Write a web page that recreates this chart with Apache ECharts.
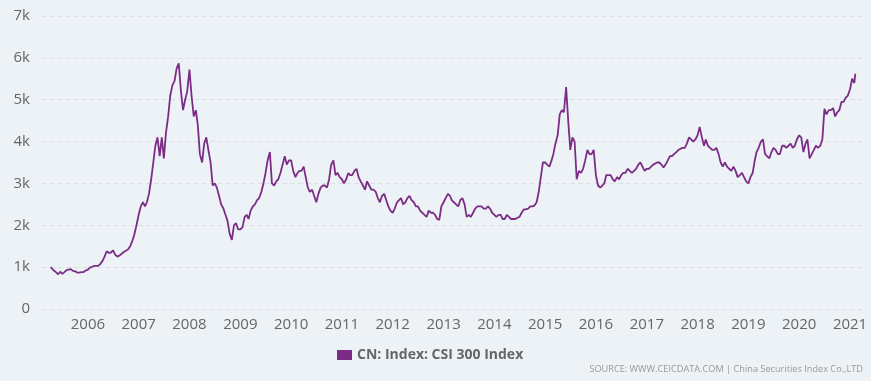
<!DOCTYPE html>
<html>
<head>
<meta charset="utf-8">
<script src="https://cdn.jsdelivr.net/npm/echarts@6/dist/echarts.min.js"></script>
<style>
html,body{margin:0;padding:0;background:#edf2f7;}
#c{width:871px;height:381px;}
</style>
</head>
<body>
<div id="c"></div>
<script>
// Half-monthly readings (1st and 16th of each month) of CSI 300
const seriesName = 'CN: Index: CSI 300 Index';
const sourceText = 'SOURCE: WWW.CEICDATA.COM | China Securities Index Co.,LTD';
const yTicks = [0, 1000, 2000, 3000, 4000, 5000, 6000, 7000];
const firstYear = 2005;
const firstMonth = 4; // April 2005
const v2005 = [1003, 960, 920, 880, 830, 890, 840, 880, 930, 940, 950, 910, 900, 870, 870, 880, 880, 920];
const v2006 = [940, 990, 1010, 1030, 1020, 1030, 1080, 1150, 1250, 1380, 1340, 1350, 1400, 1300, 1250, 1280, 1320, 1360, 1390, 1420, 1500, 1620, 1780, 2000];
const v2007 = [2250, 2450, 2550, 2450, 2550, 2750, 3100, 3500, 3900, 4100, 3650, 4100, 3600, 4200, 4600, 5100, 5350, 5450, 5750, 5870, 5200, 4750, 5000, 5200];
const v2008 = [5720, 5100, 4600, 4750, 4400, 3700, 3500, 3950, 4100, 3800, 3500, 2950, 3000, 2900, 2700, 2500, 2400, 2250, 2100, 1800, 1650, 2000, 2050, 1900];
const v2009 = [1900, 1950, 2200, 2250, 2150, 2350, 2450, 2500, 2600, 2650, 2800, 3000, 3250, 3550, 3750, 3000, 2950, 3050, 3100, 3250, 3450, 3650, 3450, 3550];
const v2010 = [3550, 3300, 3150, 3250, 3300, 3300, 3400, 3150, 2900, 2800, 2850, 2700, 2550, 2750, 2900, 2950, 2950, 2900, 3100, 3450, 3550, 3200, 3250, 3150];
const v2011 = [3100, 3000, 3100, 3250, 3200, 3200, 3300, 3350, 3150, 3050, 2950, 2850, 3050, 2950, 2850, 2850, 2800, 2650, 2550, 2700, 2750, 2600, 2450, 2350];
const v2012 = [2300, 2400, 2550, 2600, 2650, 2500, 2550, 2650, 2700, 2600, 2550, 2450, 2450, 2350, 2300, 2250, 2200, 2350, 2300, 2300, 2250, 2150, 2130, 2450];
const v2013 = [2550, 2650, 2750, 2700, 2600, 2550, 2500, 2450, 2600, 2650, 2500, 2200, 2250, 2200, 2300, 2400, 2450, 2450, 2450, 2400, 2400, 2450, 2400, 2300];
const v2014 = [2250, 2200, 2250, 2250, 2150, 2150, 2250, 2200, 2150, 2150, 2150, 2180, 2200, 2300, 2380, 2380, 2400, 2450, 2450, 2470, 2550, 2800, 3150, 3500];
const v2015 = [3500, 3450, 3400, 3550, 3700, 3950, 4150, 4650, 4750, 4700, 5300, 4500, 3800, 4100, 4000, 3100, 3300, 3250, 3350, 3550, 3800, 3700, 3700, 3800];
const v2016 = [3200, 2950, 2900, 2950, 3000, 3200, 3200, 3200, 3100, 3050, 3150, 3100, 3200, 3250, 3250, 3350, 3300, 3250, 3300, 3350, 3450, 3500, 3400, 3300];
const v2017 = [3350, 3350, 3400, 3450, 3450, 3500, 3500, 3450, 3380, 3450, 3550, 3650, 3650, 3700, 3750, 3800, 3830, 3850, 3850, 3950, 4100, 4050, 4000, 4050];
const v2018 = [4150, 4350, 4100, 3900, 4050, 3900, 3850, 3800, 3800, 3850, 3700, 3500, 3400, 3500, 3400, 3350, 3300, 3400, 3300, 3150, 3200, 3250, 3150, 3050];
const v2019 = [3000, 3150, 3250, 3550, 3750, 3850, 4000, 4050, 3700, 3650, 3600, 3750, 3850, 3800, 3700, 3700, 3900, 3900, 3850, 3900, 3950, 3850, 3900, 4050];
const v2020 = [4150, 4100, 3750, 3950, 4050, 3600, 3700, 3800, 3900, 3850, 3900, 4050, 4780, 4650, 4750, 4750, 4800, 4600, 4700, 4750, 4950, 4950, 5050, 5100];
const v2021 = [5250, 5500, 5400, 5620];

const yearValues = [v2005, v2006, v2007, v2008, v2009, v2010, v2011, v2012, v2013, v2014, v2015, v2016, v2017, v2018, v2019, v2020, v2021];

function pad(n){return (n<10?'0':'')+n;}
const data = [];
yearValues.forEach(function(arr, yi){
  const year = firstYear + yi;
  const startM = yi === 0 ? firstMonth : 1;
  arr.forEach(function(v, i){
    const m = startM + Math.floor(i/2);
    let day = (i % 2 === 0) ? 1 : 16;
    if (yi === 0 && i === 0) day = 8;
    if (yi === yearValues.length-1 && i === arr.length-1) { data.push(['2021-02-08', v]); return; }
    data.push([year + '-' + pad(m) + '-' + pad(day), v]);
  });
});

const chart = echarts.init(document.getElementById('c'), null, {renderer:'canvas'});
const gridLine = {show:true, lineStyle:{color:'#dcdfe3', width:1, type:[5,3]}};
chart.setOption({
  backgroundColor:'#edf2f7',
  animation:false,
  textStyle:{fontFamily:'Open Sans'},
  grid:{left:42, right:9, top:16, bottom:72},
  xAxis:{
    type:'time',
    min:'2005-02-05', max:'2021-03-28',
    minInterval:365*24*3600*1000, maxInterval:366*24*3600*1000,
    axisLine:{show:false}, axisTick:{show:false}, splitLine:{show:false},
    axisLabel:{color:'#666', fontSize:15, margin:8, formatter:'{yyyy}', showMinLabel:false, showMaxLabel:false}
  },
  yAxis:{
    type:'value', min:yTicks[0], max:yTicks[yTicks.length-1], interval:1000,
    axisLine:{show:false}, axisTick:{show:false},
    splitLine:gridLine,
    axisLabel:{color:'#666', fontSize:15, margin:12, formatter:function(v){return v===0?'0':(v/1000)+'k';}}
  },
  legend:{
    bottom:14, left:332,
    itemWidth:15, itemHeight:10, itemGap:10, icon:'rect',
    textStyle:{color:'#666', fontSize:14, fontWeight:'bold'},
    data:[seriesName]
  },
  graphic:[{type:'text', right:8, bottom:7, style:{text:sourceText, fill:'#999', fontSize:9.2, fontFamily:'Open Sans'}}],
  series:[{
    name:seriesName, type:'line', data:data, showSymbol:false, symbol:'none',
    lineStyle:{color:'#7b2d86', width:1.8}, itemStyle:{color:'#7b2d86'}
  }]
});
</script>
</body>
</html>
